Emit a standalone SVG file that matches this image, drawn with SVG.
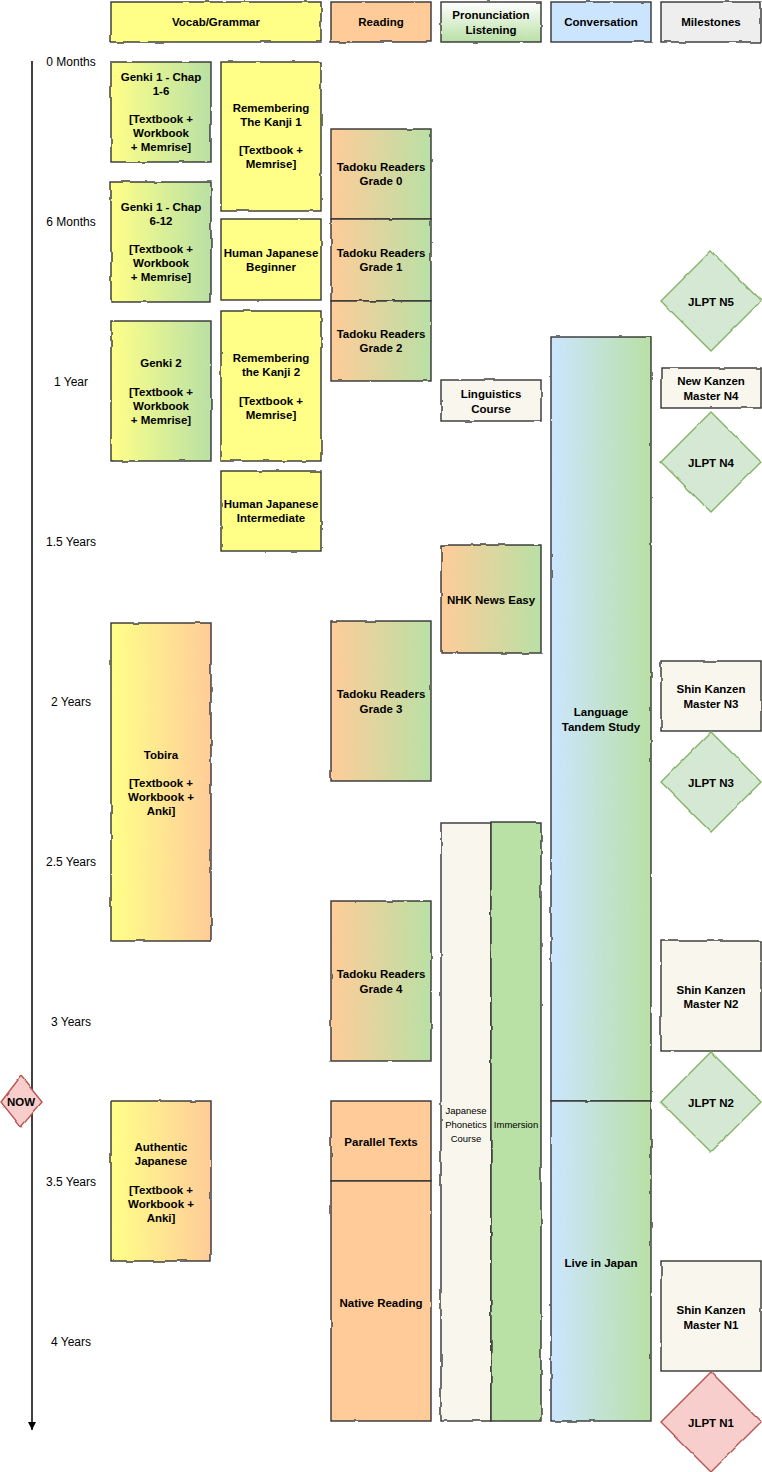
<svg xmlns="http://www.w3.org/2000/svg" width="762" height="1472" viewBox="0 0 762 1472">
<defs>
<linearGradient id="gYG" x1="0" y1="0" x2="1" y2="0"><stop offset="0" stop-color="#ffff88"/><stop offset="1" stop-color="#b9e0a5"/></linearGradient>
<linearGradient id="gOG" x1="0" y1="0" x2="1" y2="0"><stop offset="0" stop-color="#ffcc99"/><stop offset="1" stop-color="#b9e0a5"/></linearGradient>
<linearGradient id="gYO" x1="0" y1="0" x2="1" y2="0"><stop offset="0" stop-color="#ffff88"/><stop offset="1" stop-color="#ffcc99"/></linearGradient>
<linearGradient id="gBG" x1="0" y1="0" x2="1" y2="0"><stop offset="0" stop-color="#cce5ff"/><stop offset="1" stop-color="#b9e0a5"/></linearGradient>
<linearGradient id="gWG" x1="0" y1="0" x2="0" y2="1"><stop offset="0" stop-color="#ffffff"/><stop offset="1" stop-color="#b9e0a5"/></linearGradient>
<filter id="rough" x="-5%" y="-5%" width="110%" height="110%">
<feTurbulence type="fractalNoise" baseFrequency="0.06" numOctaves="2" seed="3" result="n"/>
<feDisplacementMap in="SourceGraphic" in2="n" scale="2.5" xChannelSelector="R" yChannelSelector="G"/>
</filter>
<marker id="arr" viewBox="0 0 10 10" refX="10" refY="5" markerWidth="8" markerHeight="9" markerUnits="userSpaceOnUse" orient="auto">
<path d="M0,0 L10,5 L0,10 z" fill="#000"/>
</marker>
</defs>
<style>
.b{stroke:#333;stroke-width:1.4;filter:url(#rough)}
.dg{fill:#d5e8d4;stroke:#82b366;stroke-width:1.4;filter:url(#rough)}
.dr{fill:#f8cecc;stroke:#b85450;stroke-width:1.4;filter:url(#rough)}
.t{font-family:"Liberation Sans",Arial,sans-serif;font-weight:bold;font-size:11.5px;text-anchor:middle;dominant-baseline:central;fill:#000}
.s{font-family:"Liberation Sans",Arial,sans-serif;font-size:9.5px;text-anchor:middle;dominant-baseline:central;fill:#000}
.m{font-family:"Liberation Sans",Arial,sans-serif;font-size:12px;text-anchor:middle;dominant-baseline:central;fill:#000}
</style>

<g id="connectors">
<line x1="32" y1="61" x2="32" y2="1430" stroke="#000" stroke-width="1.5" marker-end="url(#arr)"/>
</g>

<g id="time-labels">
<text class="m" x="71" y="62">0 Months</text>
<text class="m" x="71" y="222">6 Months</text>
<text class="m" x="71" y="382">1 Year</text>
<text class="m" x="71" y="542">1.5 Years</text>
<text class="m" x="71" y="702">2 Years</text>
<text class="m" x="71" y="862">2.5 Years</text>
<text class="m" x="71" y="1022">3 Years</text>
<text class="m" x="71" y="1182">3.5 Years</text>
<text class="m" x="71" y="1342">4 Years</text>
</g>

<g id="h-vocab"><rect class="b" x="111" y="2" width="210" height="40" fill="#ffff88"/><text class="t" x="216" y="22">Vocab/Grammar</text></g>
<g id="h-reading"><rect class="b" x="331" y="2" width="100" height="40" fill="#ffcc99"/><text class="t" x="381" y="22">Reading</text></g>
<g id="h-pron"><rect class="b" x="441" y="2" width="100" height="40" fill="url(#gWG)"/><text class="t" x="491" y="15">Pronunciation</text><text class="t" x="491" y="30">Listening</text></g>
<g id="h-conv"><rect class="b" x="551" y="2" width="100" height="40" fill="#cce5ff"/><text class="t" x="601" y="22">Conversation</text></g>
<g id="h-mile"><rect class="b" x="661" y="2" width="100" height="40" fill="#eeeeee"/><text class="t" x="711" y="22">Milestones</text></g>

<g id="genki1a"><rect class="b" x="111" y="62" width="100" height="100" fill="url(#gYG)"/>
<text class="t" x="161" y="77">Genki 1 - Chap</text><text class="t" x="161" y="91">1-6</text><text class="t" x="161" y="119">[Textbook +</text><text class="t" x="161" y="133">Workbook</text><text class="t" x="161" y="147">+ Memrise]</text></g>

<g id="rtk1"><rect class="b" x="221" y="62" width="100" height="149" fill="#ffff88"/>
<text class="t" x="271" y="108">Remembering</text><text class="t" x="271" y="122">The Kanji 1</text><text class="t" x="271" y="150">[Textbook +</text><text class="t" x="271" y="164">Memrise]</text></g>

<g id="tadoku0"><rect class="b" x="331" y="129" width="100" height="90" fill="url(#gOG)"/>
<text class="t" x="381" y="167">Tadoku Readers</text><text class="t" x="381" y="181">Grade 0</text></g>

<g id="genki1b"><rect class="b" x="111" y="182" width="100" height="120" fill="url(#gYG)"/>
<text class="t" x="161" y="207">Genki 1 - Chap</text><text class="t" x="161" y="221">6-12</text><text class="t" x="161" y="249">[Textbook +</text><text class="t" x="161" y="263">Workbook</text><text class="t" x="161" y="277">+ Memrise]</text></g>

<g id="hjb"><rect class="b" x="221" y="219" width="100" height="81" fill="#ffff88"/>
<text class="t" x="271" y="253">Human Japanese</text><text class="t" x="271" y="267">Beginner</text></g>

<g id="tadoku1"><rect class="b" x="331" y="219" width="100" height="82" fill="url(#gOG)"/>
<text class="t" x="381" y="253">Tadoku Readers</text><text class="t" x="381" y="267">Grade 1</text></g>

<g id="tadoku2"><rect class="b" x="331" y="301" width="100" height="80" fill="url(#gOG)"/>
<text class="t" x="381" y="334">Tadoku Readers</text><text class="t" x="381" y="348">Grade 2</text></g>

<g id="genki2"><rect class="b" x="111" y="321" width="100" height="140" fill="url(#gYG)"/>
<text class="t" x="161" y="363">Genki 2</text><text class="t" x="161" y="392">[Textbook +</text><text class="t" x="161" y="406">Workbook</text><text class="t" x="161" y="420">+ Memrise]</text></g>

<g id="rtk2"><rect class="b" x="221" y="311" width="100" height="150" fill="#ffff88"/>
<text class="t" x="271" y="358">Remembering</text><text class="t" x="271" y="372">the Kanji 2</text><text class="t" x="271" y="401">[Textbook +</text><text class="t" x="271" y="415">Memrise]</text></g>

<g id="hji"><rect class="b" x="221" y="471" width="100" height="80" fill="#ffff88"/>
<text class="t" x="271" y="504">Human Japanese</text><text class="t" x="271" y="518">Intermediate</text></g>

<g id="linguistics"><rect class="b" x="441" y="380" width="100" height="41" fill="#f9f7ed"/>
<text class="t" x="491" y="394">Linguistics</text><text class="t" x="491" y="409">Course</text></g>

<g id="tandem"><rect class="b" x="551" y="337" width="100" height="764" fill="url(#gBG)"/>
<text class="t" x="601" y="712">Language</text><text class="t" x="601" y="727">Tandem Study</text></g>

<g id="n5"><polygon class="dg" points="711,251 761,301 711,351 661,301"/><text class="t" x="711" y="302">JLPT N5</text></g>

<g id="nkm4"><rect class="b" x="661" y="368" width="100" height="40" fill="#f9f7ed"/>
<text class="t" x="711" y="381">New Kanzen</text><text class="t" x="711" y="396">Master N4</text></g>

<g id="n4"><polygon class="dg" points="711,412 761,462 711,512 661,462"/><text class="t" x="711" y="463">JLPT N4</text></g>

<g id="nhk"><rect class="b" x="441" y="545" width="100" height="108" fill="url(#gOG)"/>
<text class="t" x="491" y="600">NHK News Easy</text></g>

<g id="tobira"><rect class="b" x="111" y="623" width="100" height="318" fill="url(#gYO)"/>
<text class="t" x="161" y="755">Tobira</text><text class="t" x="161" y="783">[Textbook +</text><text class="t" x="161" y="797">Workbook +</text><text class="t" x="161" y="811">Anki]</text></g>

<g id="tadoku3"><rect class="b" x="331" y="621" width="100" height="160" fill="url(#gOG)"/>
<text class="t" x="381" y="694">Tadoku Readers</text><text class="t" x="381" y="709">Grade 3</text></g>

<g id="skm3"><rect class="b" x="661" y="661" width="100" height="70" fill="#f9f7ed"/>
<text class="t" x="711" y="689">Shin Kanzen</text><text class="t" x="711" y="704">Master N3</text></g>

<g id="n3"><polygon class="dg" points="711,732 761,782 711,832 661,782"/><text class="t" x="711" y="783">JLPT N3</text></g>

<g id="phonetics"><rect class="b" x="441" y="823" width="50" height="598" fill="#f9f7ed"/>
<text class="s" x="466" y="1110">Japanese</text><text class="s" x="466" y="1124">Phonetics</text><text class="s" x="466" y="1138">Course</text></g>

<g id="immersion"><rect class="b" x="491" y="822" width="50" height="599" fill="#b9e0a5"/>
<text class="s" x="516" y="1124">Immersion</text></g>

<g id="tadoku4"><rect class="b" x="331" y="901" width="100" height="160" fill="url(#gOG)"/>
<text class="t" x="381" y="974">Tadoku Readers</text><text class="t" x="381" y="989">Grade 4</text></g>

<g id="skm2"><rect class="b" x="661" y="941" width="100" height="110" fill="#f9f7ed"/>
<text class="t" x="711" y="990">Shin Kanzen</text><text class="t" x="711" y="1004">Master N2</text></g>

<g id="n2"><polygon class="dg" points="711,1052 761,1102 711,1152 661,1102"/><text class="t" x="711" y="1103">JLPT N2</text></g>

<g id="now"><polygon class="dr" points="21,1076 42,1102 21,1127 1,1102"/><text class="t" x="21" y="1102">NOW</text></g>

<g id="authentic"><rect class="b" x="111" y="1101" width="100" height="160" fill="url(#gYO)"/>
<text class="t" x="161" y="1147">Authentic</text><text class="t" x="161" y="1161">Japanese</text><text class="t" x="161" y="1190">[Textbook +</text><text class="t" x="161" y="1204">Workbook +</text><text class="t" x="161" y="1218">Anki]</text></g>

<g id="parallel"><rect class="b" x="331" y="1101" width="100" height="80" fill="#ffcc99"/>
<text class="t" x="381" y="1142">Parallel Texts</text></g>

<g id="native"><rect class="b" x="331" y="1181" width="100" height="240" fill="#ffcc99"/>
<text class="t" x="381" y="1303">Native Reading</text></g>

<g id="live"><rect class="b" x="551" y="1101" width="100" height="320" fill="url(#gBG)"/>
<text class="t" x="601" y="1263">Live in Japan</text></g>

<g id="skm1"><rect class="b" x="661" y="1261" width="100" height="110" fill="#f9f7ed"/>
<text class="t" x="711" y="1310">Shin Kanzen</text><text class="t" x="711" y="1325">Master N1</text></g>

<g id="n1"><polygon class="dr" points="711,1372 761,1422 711,1472 661,1422"/><text class="t" x="711" y="1423">JLPT N1</text></g>
</svg>
